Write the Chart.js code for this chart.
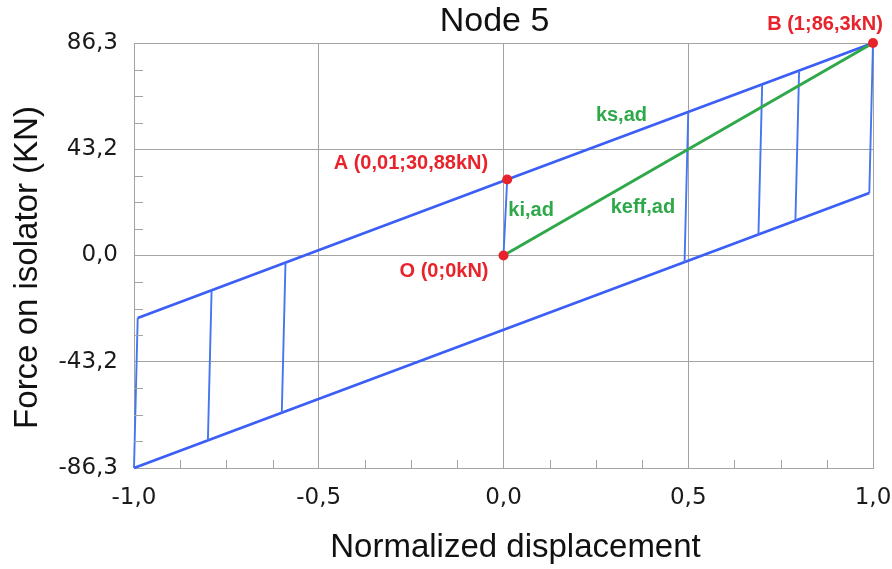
<!DOCTYPE html>
<html>
<head>
<meta charset="utf-8">
<title>Node 5</title>
<script src="https://cdn.jsdelivr.net/npm/chart.js@4/dist/chart.umd.min.js"></script>
<style>
  html, body { margin: 0; padding: 0; background: #fff; }
</style>
</head>
<body>
<canvas id="node5-chart" width="892" height="569"></canvas>
<script>
/**************************************************************
                     NODE 5 HYSTERESIS DATA
***************************************************************/
// isolator loop, null breaks the line between separate branches
let loopDisplacement = [-0.99, 0.01, 1.00, 0.99, -1.00, -0.99, null, -0.79, -0.80, null, -0.59, -0.60, null, 0.50, 0.49, null, 0.70, 0.69, null, 0.80, 0.79, null, 0.00, 0.01]
let loopForce = [-25.4, 30.88, 86.3, 25.4, -86.3, -25.4, null, -14.1, -75.0, null, -2.9, -63.9, null, 58.2, -2.8, null, 69.4, 8.3, null, 75.0, 14.0, null, 0.0, 30.88]

// effective stiffness line O -> B
let effDisplacement = [0, 1]
let effForce = [0, 86.3]

// marked points O, A, B
let pointNames = ["O (0;0kN)", "A (0,01;30,88kN)", "B (1;86,3kN)"]
let pointDisplacement = [0, 0.01, 1]
let pointForce = [0, 30.88, 86.3]

// stiffness labels
let stiffnessNames = ["ks,ad", "ki,ad", "keff,ad"]

// axis ticks
let xTickValues = [-1, -0.5, 0, 0.5, 1]
let yTickValues = [-86.3, -43.2, 0, 43.2, 86.3]

/**************************************************************
                     STYLE
***************************************************************/
let blue = '#3a5ef6'
let blueSteep = '#4676ef'
let green = '#2fa84a'
let red = '#e8232b'
let gridGray = '#a3a3a3'

Chart.defaults.font.family = "'DejaVu Sans', sans-serif"

// where each text label sits: anchored on a data point, offset in px
let pointLabelStyle = [
    { align: 'right', dx: -15, dy: 16 },
    { align: 'right', dx: -19, dy: -16 },
    { align: 'center', dx: -48, dy: -19 }
]
let stiffnessAnchors = [
    { x: 0.25, y: 56.7 },
    { x: 0.013, y: 18.1 },
    { x: 0.29, y: 19.7 }
]

let toComma = v => Number(v).toFixed(1).replace('.', ',')

// near-vertical unloading branches are drawn thinner than the sliding branches
let isSteep = ctx => Math.abs(ctx.p1.parsed.x - ctx.p0.parsed.x) < 0.05

/*** Titles, minor ticks and annotations ***/
let decorationsPlugin = {
    id: 'decorations',
    afterDraw(chart) {
        let ctx = chart.ctx
        let area = chart.chartArea
        let xs = chart.scales.x
        let ys = chart.scales.y
        ctx.save()

        // minor ticks (4 per major interval), pointing into the plot
        ctx.strokeStyle = gridGray
        ctx.lineWidth = 1
        ctx.beginPath()
        for (let i = 1; i < 16; i++) {
            if (i % 4 === 0) continue
            let yv = -86.3 + i * (86.3 * 2 / 16)
            let py = Math.round(ys.getPixelForValue(yv)) + 0.5
            ctx.moveTo(area.left, py)
            ctx.lineTo(area.left + 9, py)
            let xv = -1 + i * 0.125
            let px = Math.round(xs.getPixelForValue(xv)) + 0.5
            ctx.moveTo(px, area.bottom)
            ctx.lineTo(px, area.bottom - 8)
        }
        ctx.stroke()

        // chart title and axis titles
        ctx.fillStyle = '#111'
        ctx.textAlign = 'center'
        ctx.textBaseline = 'middle'
        ctx.font = "34px 'Liberation Sans', Arial, sans-serif"
        ctx.fillText('Node 5', (area.left + area.right) / 2 - 9, 22)
        ctx.font = "33px 'Liberation Sans', Arial, sans-serif"
        ctx.fillText('Normalized displacement', (area.left + area.right) / 2 + 12, 548)
        ctx.save()
        ctx.translate(28, (area.top + area.bottom) / 2 + 12)
        ctx.rotate(-Math.PI / 2)
        ctx.fillText('Force on isolator (KN)', 0, 0)
        ctx.restore()

        // point labels
        ctx.font = "bold 20px 'Liberation Sans', Arial, sans-serif"
        ctx.fillStyle = red
        pointNames.forEach((name, i) => {
            let s = pointLabelStyle[i]
            ctx.textAlign = s.align
            ctx.fillText(name, xs.getPixelForValue(pointDisplacement[i]) + s.dx, ys.getPixelForValue(pointForce[i]) + s.dy)
        })

        // stiffness labels
        ctx.fillStyle = green
        ctx.textAlign = 'left'
        stiffnessNames.forEach((name, i) => {
            ctx.fillText(name, xs.getPixelForValue(stiffnessAnchors[i].x), ys.getPixelForValue(stiffnessAnchors[i].y))
        })
        ctx.restore()
    }
}

/**************************************************************
                     NODE 5 CHART
***************************************************************/
let node5Canvas = document.getElementById('node5-chart').getContext('2d')
let node5Config = {
    type: 'scatter',
    data: {
        datasets: [{
            data: pointDisplacement.map((x, i) => ({ x: x, y: pointForce[i] })),
            backgroundColor: red,
            borderWidth: 0,
            pointRadius: 5,
            showLine: false,
            clip: false,
            order: 0
        }, {
            data: effDisplacement.map((x, i) => ({ x: x, y: effForce[i] })),
            borderColor: green,
            borderWidth: 3,
            pointRadius: 0,
            showLine: true,
            clip: false,
            order: 1
        }, {
            data: loopDisplacement.map((x, i) => ({ x: x, y: loopForce[i] })),
            borderColor: blue,
            borderWidth: 2.8,
            segment: {
                borderColor: ctx => isSteep(ctx) ? blueSteep : blue,
                borderWidth: ctx => isSteep(ctx) ? 1.9 : 2.8
            },
            pointRadius: 0,
            showLine: true,
            spanGaps: false,
            clip: false,
            order: 2
        }]
    },
    options: {
        responsive: false,
        animation: false,
        devicePixelRatio: 1,
        layout: {
            padding: { top: 43, right: 19, left: 0, bottom: 0 }
        },
        plugins: {
            legend: { display: false },
            tooltip: { enabled: false }
        },
        scales: {
            x: {
                type: 'linear',
                min: -1,
                max: 1,
                afterBuildTicks: s => { s.ticks = xTickValues.map(v => ({ value: v })) },
                afterFit: s => {
                    s.height = 101
                    // the edge labels may hang over; the frame stays at 19px from the right
                    s.paddingLeft = 0
                    s.paddingRight = 0
                },
                grid: { color: gridGray, drawTicks: false },
                border: { color: gridGray },
                ticks: {
                    padding: 16,
                    color: '#1a1a1a',
                    font: { size: 23 },
                    maxRotation: 0,
                    autoSkip: false,
                    callback: v => toComma(v)
                }
            },
            y: {
                type: 'linear',
                min: -86.3,
                max: 86.3,
                afterBuildTicks: s => { s.ticks = yTickValues.map(v => ({ value: v })) },
                afterFit: s => {
                    s.width = 134
                    s.paddingTop = 0
                    s.paddingBottom = 0
                },
                grid: { color: gridGray, drawTicks: false },
                border: { color: gridGray },
                ticks: {
                    padding: 16,
                    color: '#1a1a1a',
                    font: { size: 23 },
                    autoSkip: false,
                    callback: v => toComma(v)
                }
            }
        }
    },
    plugins: [decorationsPlugin]
}

let node5Chart = new Chart(node5Canvas, node5Config)
</script>
</body>
</html>
